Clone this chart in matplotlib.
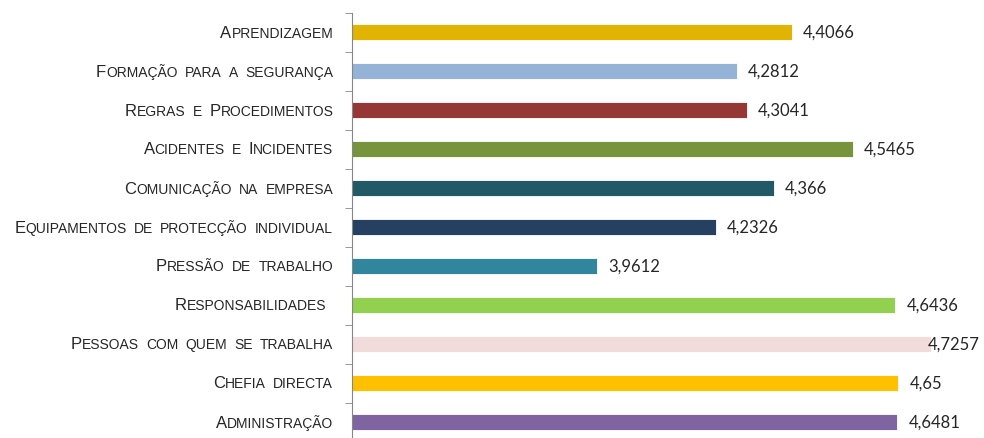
import numpy as np
import matplotlib
matplotlib.use("Agg")
import matplotlib.pyplot as plt
from matplotlib.offsetbox import TextArea, HPacker, AnnotationBbox

# dados (de cima para baixo)
categorias = [
    "Aprendizagem",
    "Formação para a segurança",
    "Regras e Procedimentos",
    "Acidentes e Incidentes",
    "Comunicação na empresa",
    "Equipamentos de protecção individual",
    "Pressão de trabalho",
    "Responsabilidades ",
    "Pessoas com quem se trabalha",
    "Chefia directa",
    "Administração",
]
valores = [4.4066, 4.2812, 4.3041, 4.5465, 4.366, 4.2326, 3.9612, 4.6436, 4.7257, 4.65, 4.6481]
rotulos = ["4,4066", "4,2812", "4,3041", "4,5465", "4,366", "4,2326", "3,9612", "4,6436", "4,7257", "4,65", "4,6481"]
cores = ["#E0B400", "#95B3D7", "#953735", "#77933C", "#215967", "#254061",
         "#31859C", "#92D050", "#F2DCDB", "#FFC000", "#8064A2"]

fig = plt.figure(figsize=(9.84, 4.39), dpi=100)
ax = fig.add_axes([352 / 984, -3.5 / 439, (984 - 352) / 984, 429 / 439])

y = np.arange(len(categorias))
ax.barh(y, valores, height=0.41, color=cores, edgecolor="white", linewidth=0.6)
xmax = 3.4 + (984 - 352) / 437
ax.set_xlim(3.4, xmax)
ax.set_ylim(len(categorias) - 0.5, -0.5)

for i, (v, r) in enumerate(zip(valores, rotulos)):
    if v > 4.7:
        # rótulo empurrado para dentro da área do gráfico
        ax.annotate(r, (1, i), xycoords=("axes fraction", "data"), xytext=(-3, 0),
                    textcoords="offset points", va="center", ha="right",
                    fontsize=12, family="Lato", color="#262626")
    else:
        ax.annotate(r, (v, i), xytext=(8, 0), textcoords="offset points",
                    va="center", ha="left", fontsize=12, family="Lato", color="#262626")

# rótulos em versaletes (small caps)
def palavra(p):
    partes = []
    atual, grande = "", None
    for ch in p:
        g = ch.isupper()
        if grande is None or g == grande:
            atual += ch
        else:
            partes.append((atual, grande))
            atual = ch
        grande = g
    if atual:
        partes.append((atual, grande))
    caixas = [TextArea(t.upper(), textprops=dict(fontsize=12 if g else 10,
                                                 family="Liberation Sans", color="#262626"))
              for t, g in partes]
    if not caixas:
        caixas = [TextArea("", textprops=dict(fontsize=10))]
    return HPacker(children=caixas, align="baseline", pad=0, sep=0)

def versalete(texto):
    palavras = [palavra(p) for p in texto.split(" ")]
    return HPacker(children=palavras, align="baseline", pad=0, sep=5.2)

for i, c in enumerate(categorias):
    ab = AnnotationBbox(versalete(c), (0, i), xycoords=("axes fraction", "data"),
                        xybox=(-13.5, 0), boxcoords="offset points",
                        box_alignment=(1, 0.5), frameon=False)
    ax.add_artist(ab)

for s in ["top", "right", "bottom"]:
    ax.spines[s].set_visible(False)
ax.spines["left"].set_color("#868686")
ax.set_xticks([])
ax.set_yticks([])
ax.set_yticks(np.arange(-0.5, len(categorias), 1), minor=True)
ax.tick_params(axis="y", which="minor", length=5, color="#868686", labelleft=False)

fig.savefig("out.png", dpi=100)
